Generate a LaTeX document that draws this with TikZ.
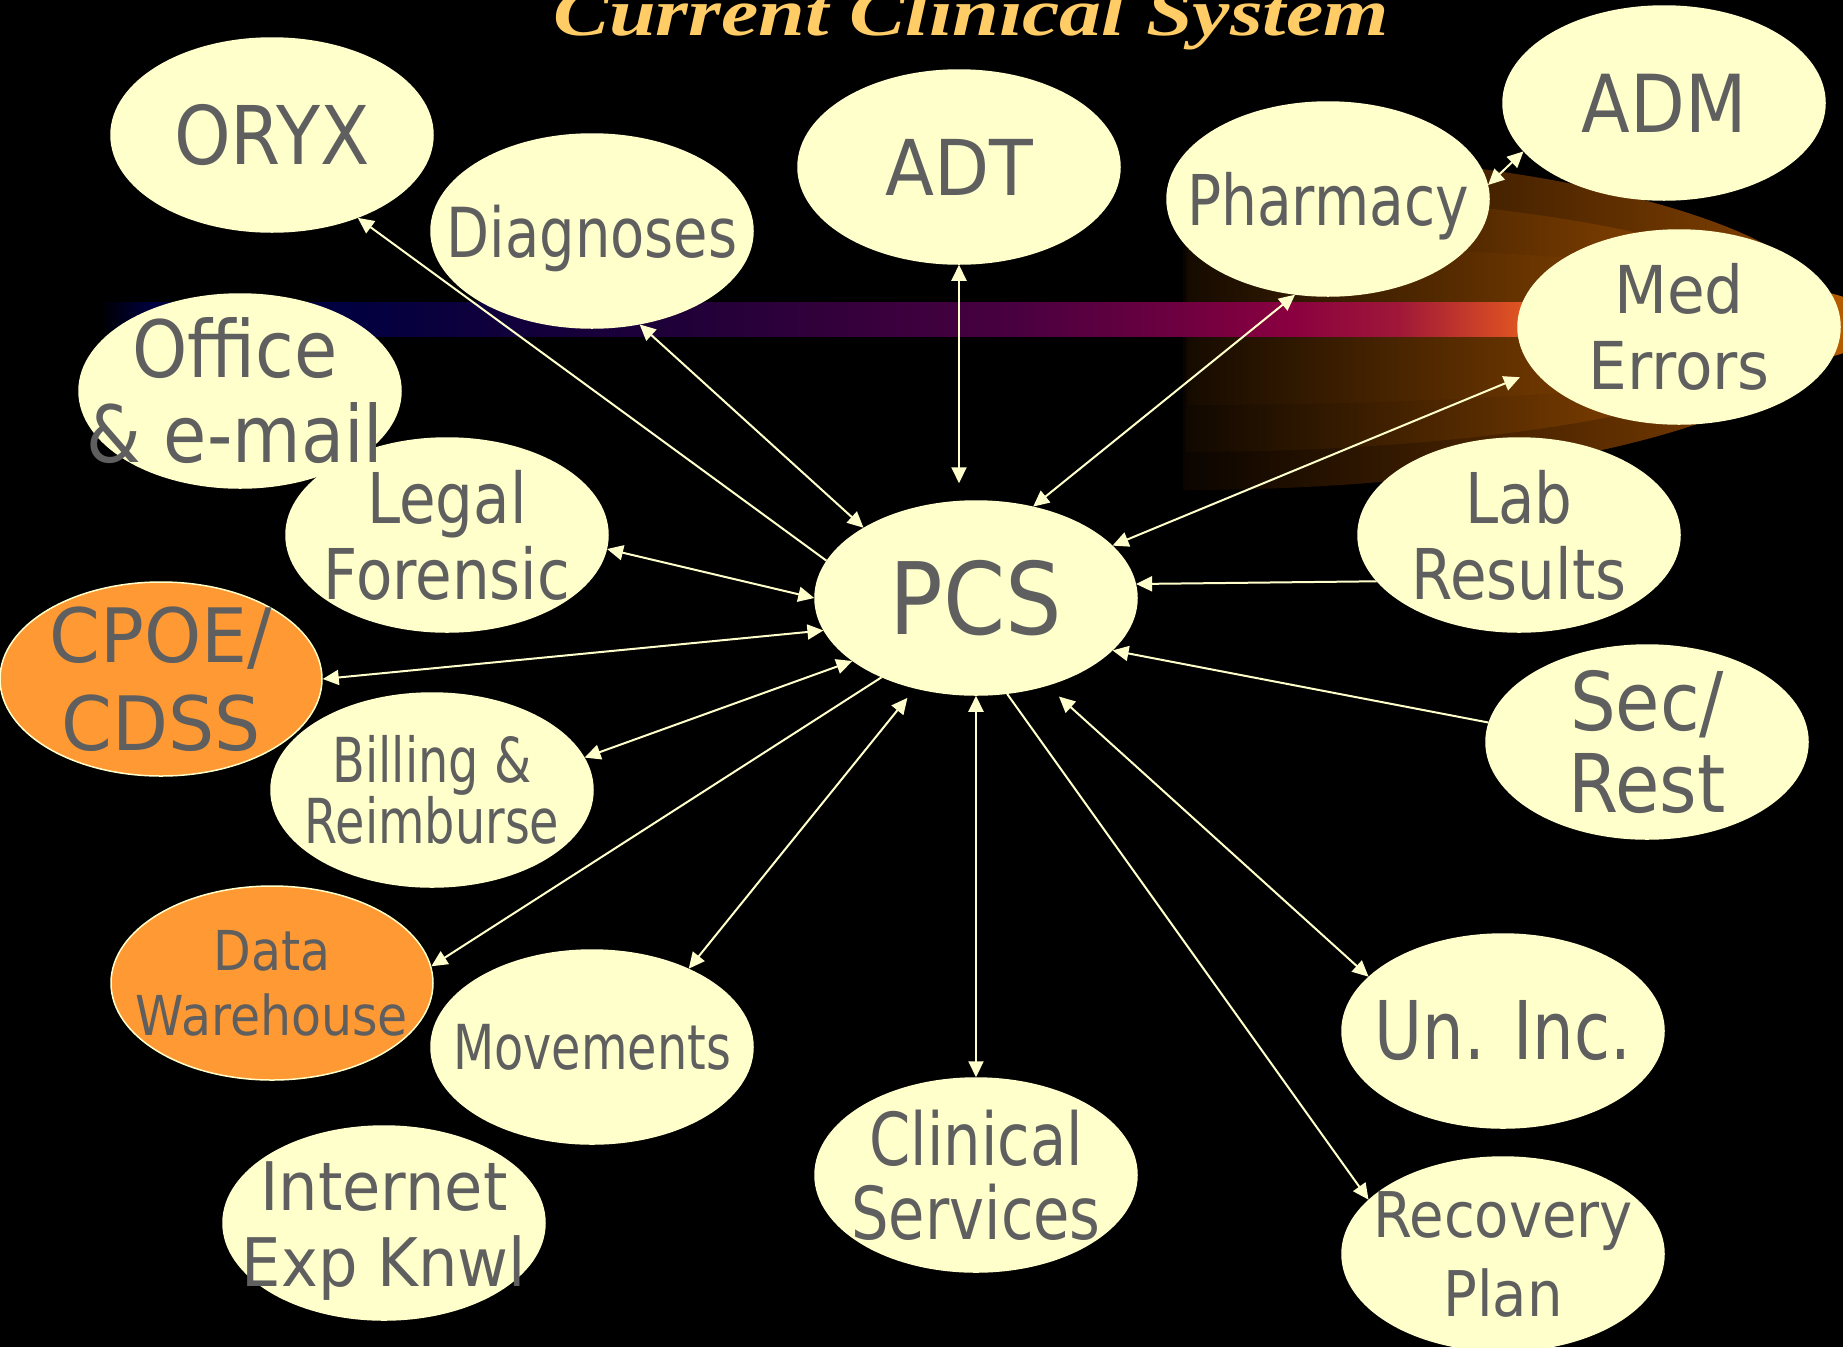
\documentclass[tikz,border=0pt]{standalone}
\usepackage{fontspec}
\usepackage{graphicx}
\usetikzlibrary{shapes.geometric,arrows.meta}
\setmainfont{DejaVu Sans}
\newfontfamily\titlefont{Liberation Serif}
\newfontfamily\fsA{DejaVu Sans}[FakeStretch=0.77]
\newfontfamily\fsB{DejaVu Sans}[FakeStretch=0.81]
\newfontfamily\fsC{DejaVu Sans}[FakeStretch=0.85]
\newfontfamily\fsD{DejaVu Sans}[FakeStretch=0.89]
\newfontfamily\fsE{DejaVu Sans}[FakeStretch=0.93]
\newfontfamily\fsF{DejaVu Sans}[FakeStretch=0.97]
\definecolor{cream}{HTML}{FFFFCC}
\definecolor{orng}{HTML}{FF9933}
\definecolor{txtgray}{HTML}{5F5F5F}
\definecolor{titlecol}{HTML}{FFCC66}
\definecolor{b0}{HTML}{000040}
\definecolor{b1}{HTML}{200038}
\definecolor{b2}{HTML}{4A0040}
\definecolor{b3}{HTML}{6A0040}
\definecolor{b4}{HTML}{8A0040}
\definecolor{b5}{HTML}{A01838}
\definecolor{b6}{HTML}{E05520}
\definecolor{g1l}{HTML}{0A0400}
\definecolor{g1m}{HTML}{582B00}
\definecolor{g1r}{HTML}{8A4400}
\definecolor{g2l}{HTML}{100800}
\definecolor{g2m}{HTML}{753A00}
\definecolor{g2r}{HTML}{A55200}
\definecolor{g3l}{HTML}{160B00}
\definecolor{g3m}{HTML}{955000}
\definecolor{g3r}{HTML}{C06000}
\tikzset{
  ell/.style={ellipse, minimum width=322pt, minimum height=194pt, inner sep=0pt,
    fill=cream, draw=cream, line width=1.5pt},
  orell/.style={ell, fill=orng},
  lbl/.style={text=txtgray, align=center, inner sep=0pt},
  conn/.style={draw=cream, line width=2pt},
  >={Triangle[length=16pt,width=15pt]}
}
\begin{document}
\begin{tikzpicture}[x=1pt,y=-1pt]
\fill[black] (0,0) rectangle (1843,1347);
\useasboundingbox (0,0) rectangle (1843,1347);
\clip (0,0) rectangle (1843,1347);
% title
\node[anchor=base, text=titlecol, inner sep=0pt] (title) at (971,35)
  {\scalebox{1}[0.8]{\fontsize{84pt}{84pt}\selectfont\titlefont\bfseries\itshape Current Clinical System}};
% glow behind pharmacy / med errors
\shade[left color=g1l, middle color=g1m, right color=g1r]
  (1183,150) arc[start angle=90, end angle=-90, x radius=650pt, y radius=170pt] -- cycle;
\shade[left color=g2l, middle color=g2m, right color=g2r]
  (1186,192) arc[start angle=90, end angle=-90, x radius=620pt, y radius=130pt] -- cycle;
\shade[left color=g3l, middle color=g3m, right color=g3r]
  (1188,245) arc[start angle=90, end angle=-90, x radius=700pt, y radius=80pt] -- cycle;
% gradient bar
\shade[left color=black, right color=b0] (100,302) rectangle (151,336);
\fill[b0] (150,302) rectangle (331,336);
\shade[left color=b0, right color=b1] (330,302) rectangle (681,336);
\shade[left color=b1, right color=b2] (680,302) rectangle (1021,336);
\shade[left color=b2, right color=b3] (1020,302) rectangle (1161,336);
\shade[left color=b3, right color=b4] (1160,302) rectangle (1291,336);
\shade[left color=b4, right color=b5] (1290,302) rectangle (1401,336);
\shade[left color=b5, right color=b6] (1400,302) rectangle (1521,336);
\fill[b6] (1520,302) rectangle (1600,336);
% ellipses
\node[ell] (oryx) at (272,135) {};
\node[ell] (diag) at (592,231) {};
\node[ell] (adt) at (959,167) {};
\node[ell] (pharm) at (1328,199) {};
\node[ell] (adm) at (1664,103) {};
\node[ell] (med) at (1679,327) {};
\node[ell] (office) at (240,391) {};
\node[ell] (legal) at (447,535) {};
\node[ell] (pcs) at (976,598) {};
\node[ell] (lab) at (1519,535) {};
\node[orell] (cpoe) at (161,679) {};
\node[ell] (bill) at (432,790) {};
\node[ell] (sec) at (1647,742) {};
\node[orell] (dw) at (272,983) {};
\node[ell] (move) at (592,1047) {};
\node[ell] (uninc) at (1503,1031) {};
\node[ell] (clin) at (976,1175) {};
\node[ell] (inet) at (384,1223) {};
\node[ell] (rec) at (1503,1254) {};
% labels
\node[lbl, font=\fsD\fontsize{81pt}{90pt}\selectfont] (oryx-t) at (oryx) {ORYX};
\node[lbl, text depth=0pt, font=\fsB\fontsize{69pt}{76pt}\selectfont] (diag-t) at (diag) {Diagnoses};
\node[lbl, font=\fsE\fontsize{77pt}{84pt}\selectfont] (adt-t) at (adt) {ADT};
\node[lbl, text depth=0pt, font=\fsB\fontsize{70pt}{76pt}\selectfont] (pharm-t) at (pharm) {Pharmacy};
\node[lbl, font=\fsD\fontsize{80pt}{88pt}\selectfont] (adm-t) at (adm) {ADM};
\node[lbl, font=\fsE\fontsize{66pt}{76pt}\selectfont] (med-t) at (med) {Med\\Errors};
\node[lbl, font=\fsD\fontsize{79pt}{85pt}\selectfont] (office-t) at ([xshift=-5pt]office.center) {Office\\\& e-mail};
\node[lbl, font=\fsC\fontsize{70pt}{76pt}\selectfont] (legal-t) at (legal) {Legal\\Forensic};
\node[lbl, font=\fsD\fontsize{100pt}{110pt}\selectfont] (pcs-t) at (pcs) {PCS};
\node[lbl, font=\fsC\fontsize{70pt}{76pt}\selectfont] (lab-t) at (lab) {Lab\\Results};
\node[lbl, font=\fsF\fontsize{75pt}{88pt}\selectfont] (cpoe-t) at (cpoe) {CPOE/\\CDSS};
\node[lbl, font=\fsA\fontsize{62pt}{59pt}\selectfont] (bill-t) at (bill) {Billing \&\\Reimburse};
\node[lbl, font=\fsD\fontsize{81pt}{82pt}\selectfont] (sec-t) at (sec) {Sec/\\Rest};
\node[lbl, font=\fsD\fontsize{55pt}{65pt}\selectfont] (dw-t) at (dw) {Data\\Warehouse};
\node[lbl, font=\fsA\fontsize{62pt}{70pt}\selectfont] (move-t) at (move) {Movements};
\node[lbl, font=\fsB\fontsize{81pt}{90pt}\selectfont] (uninc-t) at (uninc) {Un. Inc.};
\node[lbl, font=\fsB\fontsize{73pt}{74pt}\selectfont] (clin-t) at (clin) {Clinical\\Services};
\node[lbl, font=\fsE\fontsize{67pt}{76pt}\selectfont] (inet-t) at ([yshift=-8pt]inet.center) {Internet\\Exp Knwl};
\node[lbl, font=\fsD\fontsize{63pt}{79pt}\selectfont] (rec-t) at (rec) {Recovery\\Plan};
% connectors
\draw[conn, ->] (pcs.166) -- (oryx.-44);
\draw[conn, <->] (diag.-63) -- (pcs.148);
\draw[conn, <->] (adt.south) -- ([yshift=17pt]adt.south |- pcs.north);
\draw[conn, <->] (pharm.-109) -- (pcs.58);
\draw[conn, <->] (pharm.5) -- (adm.199);
\draw[conn, <->, shorten <=16pt] (med.197) -- (pcs.21);
\draw[conn, ->] (lab.198) -- (pcs.5);
\draw[conn, ->] (sec.173) -- (pcs.-21);
\draw[conn, <->, shorten >=16pt] (uninc.158) -- (pcs.-51);
\draw[conn, ->] (pcs.-72) -- (rec.158);
\draw[conn, <->] (pcs.south) -- (clin.north);
\draw[conn, <->, shorten >=12pt] (move.39) -- (pcs.-124);
\draw[conn, ->] (pcs.-140) -- (dw.6);
\draw[conn, <->] (bill.12) -- (pcs.-153);
\draw[conn, <->] (cpoe.east) -- (pcs.192);
\draw[conn, <->] (legal.-5) -- (pcs.west);
\end{tikzpicture}
\end{document}
